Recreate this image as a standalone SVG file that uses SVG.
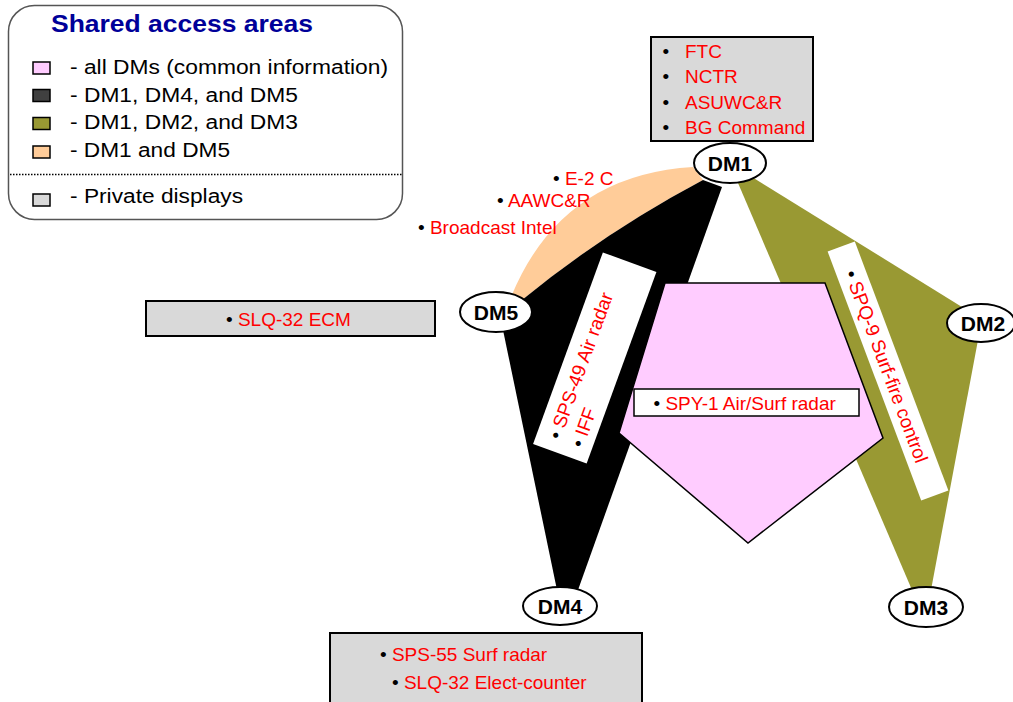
<svg xmlns="http://www.w3.org/2000/svg" width="1013" height="702" viewBox="0 0 1013 702">
<style>
text{font-family:"Liberation Sans",Arial,sans-serif}
.lg{font-size:20px;fill:#000}
.it{font-size:19px;fill:#FF0000}
.bl{fill:#000}
.dm{font-size:21px;font-weight:bold;fill:#000;text-anchor:middle}
.ell{fill:#fff;stroke:#000;stroke-width:2}
.gbox{fill:#D9D9D9;stroke:#000;stroke-width:2}
.sw{stroke:#000;stroke-width:1.5}
</style>
<rect width="1013" height="702" fill="#fff"/>
<g id="legend">
<rect x="8.5" y="5.5" width="394" height="214" rx="26" ry="26" fill="#fff" stroke="#555" stroke-width="1.5"/>
<text x="51" y="32" font-size="24" font-weight="bold" fill="#000099" textLength="262" lengthAdjust="spacingAndGlyphs">Shared access areas</text>
<rect class="sw" x="33" y="62" width="17" height="12" fill="#FFCCFF"/>
<text class="lg" x="70" y="74" textLength="318" lengthAdjust="spacingAndGlyphs">- all DMs (common information)</text>
<rect class="sw" x="33" y="89.5" width="17" height="12" fill="#404040"/>
<text class="lg" x="70" y="102" textLength="228" lengthAdjust="spacingAndGlyphs">- DM1, DM4, and DM5</text>
<rect class="sw" x="33" y="117.5" width="17" height="12" fill="#999933"/>
<text class="lg" x="70" y="129" textLength="228" lengthAdjust="spacingAndGlyphs">- DM1, DM2, and DM3</text>
<rect class="sw" x="33" y="146" width="17" height="12" fill="#FFCC99"/>
<text class="lg" x="70" y="157" textLength="160" lengthAdjust="spacingAndGlyphs">- DM1 and DM5</text>
<line x1="10" y1="174.5" x2="402" y2="174.5" stroke="#000" stroke-width="1.5" stroke-dasharray="1.5,1.5"/>
<rect class="sw" x="33" y="194" width="17" height="12" fill="#D9D9D9"/>
<text class="lg" x="70" y="203" textLength="173" lengthAdjust="spacingAndGlyphs">- Private displays</text>
</g>
<g id="shared-areas">
<path id="area-dm1-dm5" d="M693,167 Q561,175 511,297 L522,300 Q605,232 703,180 Z" fill="#FFCC99"/>
<path id="area-dm1-dm4-dm5" d="M703,180 Q605,232 522,300 L503,330 L557,590 L578,590 L722,187 Z" fill="#000"/>
<path id="area-dm1-dm2-dm3" d="M738,183 L752,177 L962,307 L978,340 L931,590 L912,590 Z" fill="#999933"/>
<polygon id="area-all" points="665,283 825,283 883,438 748,543 619,433" fill="#FFCCFF" stroke="#000" stroke-width="1.5"/>
</g>
<g id="spy1">
<rect x="634" y="389" width="225" height="27" fill="#fff" stroke="#000" stroke-width="1.5"/>
<text class="it" x="653.5" y="409.5"><tspan class="bl">•</tspan> SPY-1 Air/Surf radar</text>
</g>
<g id="sps49" transform="translate(594.75,358) rotate(-70)">
<rect x="-102" y="-28.5" width="204" height="57" fill="#fff"/>
<text class="it" x="-89.3" y="-4"><tspan class="bl">•</tspan> SPS-49 Air radar</text>
<text class="it" x="-89.3" y="20"><tspan class="bl">•</tspan> IFF</text>
</g>
<g id="spq9" transform="translate(888,371) rotate(69.4)">
<rect x="-133" y="-14.5" width="266" height="29" fill="#fff"/>
<text class="it" x="-107" y="6.5" font-size="18"><tspan class="bl">•</tspan> SPQ-9 Surf-fire control</text>
</g>
<g id="dm1-dm5-items">
<text class="it" x="553" y="185"><tspan class="bl">•</tspan> E-2 C</text>
<text class="it" x="497" y="207"><tspan class="bl">•</tspan> AAWC&amp;R</text>
<text class="it" x="418" y="234"><tspan class="bl">•</tspan> Broadcast Intel</text>
</g>
<g id="dm1-display">
<rect class="gbox" x="651" y="37" width="162" height="104"/>
<text class="bl" x="662.5" y="58" font-size="19">•</text>
<text class="it" x="685" y="58">FTC</text>
<text class="bl" x="662.5" y="83.3" font-size="19">•</text>
<text class="it" x="685" y="83.3">NCTR</text>
<text class="bl" x="662.5" y="108.6" font-size="19">•</text>
<text class="it" x="685" y="108.6">ASUWC&amp;R</text>
<text class="bl" x="662.5" y="134" font-size="19">•</text>
<text class="it" x="685" y="134">BG Command</text>
</g>
<g id="dm5-display">
<rect class="gbox" x="146" y="301" width="289" height="35"/>
<text class="it" x="226" y="326"><tspan class="bl">•</tspan> SLQ-32 ECM</text>
</g>
<g id="dm4-display">
<rect class="gbox" x="330" y="633" width="312" height="80"/>
<text class="it" x="380" y="661"><tspan class="bl">•</tspan> SPS-55 Surf radar</text>
<text class="it" x="392" y="689"><tspan class="bl">•</tspan> SLQ-32 Elect-counter</text>
</g>
<g id="DM1"><ellipse class="ell" cx="730" cy="163" rx="36" ry="20"/><text class="dm" x="730" y="170.5">DM1</text></g>
<g id="DM2"><ellipse class="ell" cx="981" cy="323" rx="34" ry="19"/><text class="dm" x="983" y="330.5">DM2</text></g>
<g id="DM3"><ellipse class="ell" cx="926" cy="607" rx="37" ry="20"/><text class="dm" x="926" y="614.5">DM3</text></g>
<g id="DM4"><ellipse class="ell" cx="560" cy="606" rx="37" ry="19"/><text class="dm" x="560" y="613.5">DM4</text></g>
<g id="DM5"><ellipse class="ell" cx="496" cy="312" rx="36" ry="20"/><text class="dm" x="496" y="319.5">DM5</text></g>
</svg>
